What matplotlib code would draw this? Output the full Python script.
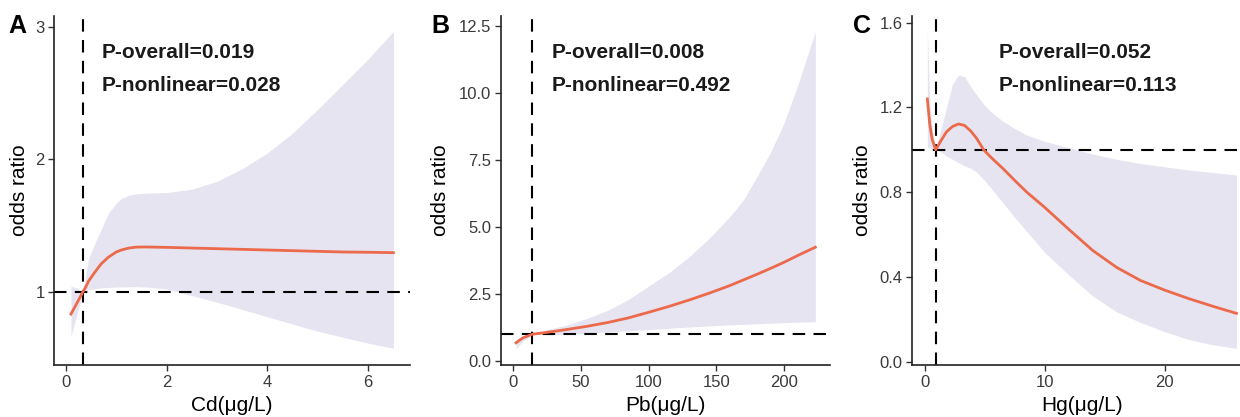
import matplotlib
matplotlib.use('agg')
import matplotlib.pyplot as plt

plt.rcParams['font.family'] = ['Liberation Sans', 'DejaVu Sans']

# Cd panel
cd_x = [0.1, 0.2, 0.34, 0.4, 0.45, 0.58, 0.7, 0.84, 1.0, 1.1, 1.25, 1.4, 1.6, 2.0,
        2.5, 3.0, 3.5, 4.0, 4.5, 5.0, 5.5, 6.0, 6.5]
cd_or = [0.83, 0.90, 1.0, 1.04, 1.08, 1.15, 1.21, 1.26, 1.30, 1.315, 1.33, 1.337, 1.338, 1.335,
         1.33, 1.325, 1.32, 1.315, 1.31, 1.305, 1.30, 1.298, 1.295]
cd_hi = [1.04, 1.03, 1.0, 1.14, 1.25, 1.37, 1.47, 1.59, 1.67, 1.705, 1.73, 1.74, 1.745, 1.75,
         1.775, 1.835, 1.93, 2.05, 2.20, 2.38, 2.57, 2.76, 2.97]
cd_lo = [0.66, 0.80, 1.0, 1.01, 1.015, 1.022, 1.028, 1.032, 1.035, 1.036, 1.037, 1.038, 1.035, 1.02,
         0.97, 0.92, 0.865, 0.81, 0.755, 0.70, 0.655, 0.61, 0.572]

# Pb panel
pb_x = [2, 7, 14, 25, 40, 55, 70, 85, 100, 115, 130, 145, 160, 170, 180, 190, 200, 210, 223]
pb_or = [0.68, 0.86, 1.0, 1.07, 1.18, 1.30, 1.44, 1.61, 1.82, 2.04, 2.28, 2.54, 2.82, 3.03,
         3.24, 3.46, 3.69, 3.94, 4.25]
pb_hi = [0.80, 0.92, 1.0, 1.17, 1.35, 1.60, 1.90, 2.30, 2.80, 3.30, 3.90, 4.60, 5.40, 6.02,
         6.90, 7.80, 8.90, 10.3, 12.3]
pb_lo = [0.45, 0.75, 1.0, 0.98, 0.99, 1.04, 1.085, 1.13, 1.17, 1.22, 1.27, 1.31, 1.35, 1.37,
         1.39, 1.41, 1.43, 1.45, 1.47]

# Hg panel
hg_x = [0.2, 0.4, 0.6, 0.9, 1.3, 1.8, 2.3, 2.8, 3.3, 3.8, 4.3, 4.9, 5.5, 6.5, 7.5, 8.5,
        10, 12, 14, 16, 18, 20, 22, 24, 26]
hg_or = [1.24, 1.12, 1.05, 1.0, 1.04, 1.085, 1.11, 1.122, 1.115, 1.09, 1.055, 1.0, 0.965, 0.912,
         0.855, 0.80, 0.728, 0.625, 0.525, 0.445, 0.383, 0.338, 0.298, 0.262, 0.228]
hg_hi = [1.57, 1.22, 1.10, 1.0, 1.09, 1.20, 1.31, 1.353, 1.345, 1.30, 1.26, 1.215, 1.18, 1.135,
         1.10, 1.07, 1.04, 1.01, 0.98, 0.955, 0.935, 0.92, 0.905, 0.893, 0.881]
hg_lo = [1.01, 1.01, 1.005, 1.0, 0.99, 0.97, 0.955, 0.94, 0.925, 0.913, 0.895, 0.86, 0.82, 0.75,
         0.68, 0.615, 0.515, 0.41, 0.31, 0.235, 0.185, 0.142, 0.105, 0.08, 0.063]

panels = [
    dict(tag='A', x=cd_x, y=cd_or, lo=cd_lo, hi=cd_hi, ref=0.33, xlabel='Cd(μg/L)',
         p1='P-overall=0.019', p2='P-nonlinear=0.028',
         xticks=[0, 2, 4, 6], xtl=['0', '2', '4', '6'],
         yticks=[1, 2, 3], ytl=['1', '2', '3'],
         xlim=(-0.23, 6.83), ylim=(0.445, 3.088),
         rect=[0.0438, 0.1247, 0.2869, 0.8377], tx=0.133, ylx=-0.099, tagx=8),
    dict(tag='B', x=pb_x, y=pb_or, lo=pb_lo, hi=pb_hi, ref=14, xlabel='Pb(μg/L)',
         p1='P-overall=0.008', p2='P-nonlinear=0.492',
         xticks=[0, 50, 100, 150, 200], xtl=['0', '50', '100', '150', '200'],
         yticks=[0, 2.5, 5, 7.5, 10, 12.5], ytl=['0.0', '2.5', '5.0', '7.5', '10.0', '12.5'],
         xlim=(-9.3, 233.7), ylim=(-0.15, 12.9),
         rect=[0.4038, 0.1247, 0.2654, 0.8377], tx=0.155, ylx=-0.182, tagx=431),
    dict(tag='C', x=hg_x, y=hg_or, lo=hg_lo, hi=hg_hi, ref=0.9, xlabel='Hg(μg/L)',
         p1='P-overall=0.052', p2='P-nonlinear=0.113',
         xticks=[0, 10, 20], xtl=['0', '10', '20'],
         yticks=[0, 0.4, 0.8, 1.2, 1.6], ytl=['0.0', '0.4', '0.8', '1.2', '1.6'],
         xlim=(-1.06, 27.3), ylim=(-0.0156, 1.633),
         rect=[0.7357, 0.1247, 0.274, 0.8377], tx=0.253, ylx=-0.146, tagx=853),
]

fig = plt.figure(figsize=(12.4, 4.17), dpi=100)

for p in panels:
    ax = fig.add_axes(p['rect'])
    ax.fill_between(p['x'], p['lo'], p['hi'], color='#E6E4F1', lw=0, zorder=1)
    ax.plot(p['x'], p['y'], color='#EC6A4C', lw=2.0, zorder=3)
    ax.axvline(p['ref'], color='black', lw=1.5, dashes=(6, 4), zorder=2)
    ax.axhline(1, color='black', lw=1.5, dashes=(6, 4), zorder=2)

    ax.set_xlim(*p['xlim'])
    ax.set_ylim(*p['ylim'])
    ax.set_xticks(p['xticks'])
    ax.set_xticklabels(p['xtl'])
    ax.set_yticks(p['yticks'])
    ax.set_yticklabels(p['ytl'])
    ax.tick_params(length=4, width=1, color='#333333', labelcolor='#3a3a3a',
                   labelsize=12, pad=3)

    for s in ['top', 'right']:
        ax.spines[s].set_visible(False)
    for s in ['left', 'bottom']:
        ax.spines[s].set_color('#222222')
        ax.spines[s].set_linewidth(1.2)

    ax.set_xlabel(p['xlabel'], fontsize=15, va='center')
    ax.xaxis.set_label_coords(0.5, -0.115)
    ax.set_ylabel('odds ratio', fontsize=15, va='center')
    ax.yaxis.set_label_coords(p['ylx'], 0.5)

    ax.text(p['tx'], 0.894, p['p1'], transform=ax.transAxes, fontsize=15,
            fontweight='bold', va='center', ha='left', color='#1a1a1a')
    ax.text(p['tx'], 0.799, p['p2'], transform=ax.transAxes, fontsize=15,
            fontweight='bold', va='center', ha='left', color='#1a1a1a')

    fig.text(p['tagx'] / 1240, 1 - 26 / 417, p['tag'], fontsize=18, fontweight='bold',
             va='center', ha='left')

fig.savefig('out.png', dpi=100)
plt.close(fig)
